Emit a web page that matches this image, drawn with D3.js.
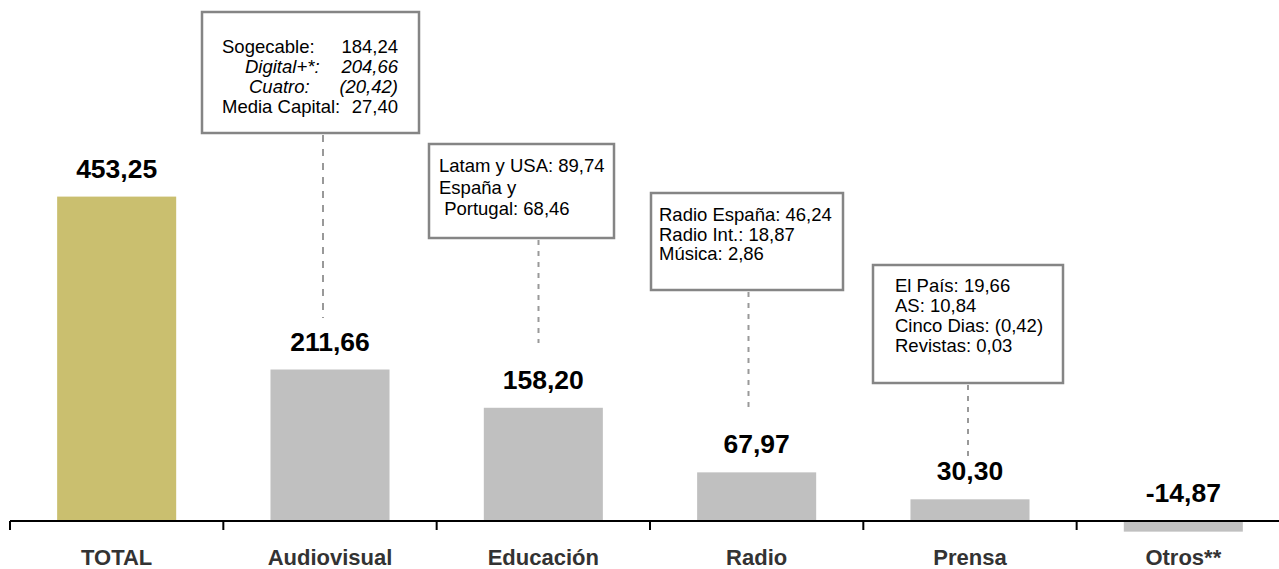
<!DOCTYPE html>
<html>
<head>
<meta charset="utf-8">
<script src="https://cdn.jsdelivr.net/npm/d3@7"></script>
<style>
  html, body { margin: 0; padding: 0; background: #fff; }
  svg { display: block; font-family: "Liberation Sans", Arial, Helvetica, sans-serif; }
  .pre { white-space: pre; }
</style>
</head>
<body>
<svg id="chart" width="1279" height="569"></svg>
<script>
// Resultado por negocio (millones de euros)
const categories = ["TOTAL", "Audiovisual", "Educación", "Radio", "Prensa", "Otros**"];
const values = [453.25, 211.66, 158.20, 67.97, 30.30, -14.87];

// Desglose de cada negocio
const audiovisualLabels = ["Sogecable:", "Digital+*:", "Cuatro:", "Media Capital:"];
const audiovisualValues = ["184,24", "204,66", "(20,42)", "27,40"];
const audiovisualItalic = [false, true, true, false];
const educacionLines = ["Latam y USA: 89,74", "España y", " Portugal: 68,46"];
const radioLines = ["Radio España: 46,24", "Radio Int.: 18,87", "Música: 2,86"];
const prensaLines = ["El País: 19,66", "AS: 10,84", "Cinco Dias: (0,42)", "Revistas: 0,03"];

const fmt = d3.formatLocale({ decimal: ",", thousands: ".", grouping: [3], currency: ["", " €"], minus: "-" }).format(".2f");

const svg = d3.select("#chart");
const W = 1279, H = 569;

const x = d3.scaleBand().domain(categories).range([10, 10 + 213.33 * 6]).paddingInner(0.442).paddingOuter(0.221);
const y = d3.scaleLinear().domain([0, 453.25]).range([521, 196.6]);

// Barras
svg.append("g").selectAll("rect")
  .data(values)
  .join("rect")
  .attr("x", (d, i) => x(categories[i]))
  .attr("width", x.bandwidth())
  .attr("y", d => Math.min(y(d), y(0)))
  .attr("height", d => Math.abs(y(d) - y(0)))
  .attr("fill", (d, i) => i === 0 ? "#CABF6F" : "#C0C0C0");

// Eje horizontal con marcas entre categorías
const step = x.step();
const start = x.range()[0];
const axisG = svg.append("g");
axisG.append("line")
  .attr("x1", start).attr("x2", W)
  .attr("y1", y(0)).attr("y2", y(0))
  .attr("stroke", "#000").attr("stroke-width", 2);
axisG.selectAll("line.tick")
  .data(d3.range(categories.length))
  .join("line")
  .attr("class", "tick")
  .attr("x1", i => start + i * step).attr("x2", i => start + i * step)
  .attr("y1", y(0)).attr("y2", y(0) + 9)
  .attr("stroke", "#000").attr("stroke-width", 2);

// Etiquetas de categoría
svg.append("g").selectAll("text")
  .data(categories)
  .join("text")
  .attr("x", d => x(d) + x.bandwidth() / 2)
  .attr("y", 565)
  .attr("text-anchor", "middle")
  .attr("font-size", 22)
  .attr("font-weight", "bold")
  .attr("fill", "#333")
  .text(d => d);

// Valores sobre las barras
const labelBase = d => y(Math.max(d, 0)) - 19;
svg.append("g").selectAll("text")
  .data(values)
  .join("text")
  .attr("x", (d, i) => x(categories[i]) + x.bandwidth() / 2)
  .attr("y", d => labelBase(d))
  .attr("text-anchor", "middle")
  .attr("font-size", 26.5)
  .attr("font-weight", "bold")
  .attr("fill", "#000")
  .text(d => fmt(d));

// Cuadros de desglose con línea discontinua
const boxes = [
  { cat: "Audiovisual", x: 202, y: 12, w: 217, h: 121, lineX: 323, lineEnd: 318, dash: "7,7", tx: 20, first: 41, lh: 20 },
  { cat: "Educación",   x: 429, y: 144, w: 185, h: 94, lineX: 538.5, lineEnd: 343, dash: "5,6", tx: 10, first: 28, lh: 21.5, lines: educacionLines },
  { cat: "Radio",       x: 651, y: 193, w: 192, h: 97, lineX: 748.5, lineEnd: 411, dash: "5,6", tx: 8, first: 28, lh: 19.5, lines: radioLines },
  { cat: "Prensa",      x: 873, y: 265, w: 190, h: 118, lineX: 968, lineEnd: 457, dash: "5,6", tx: 22, first: 27, lh: 20, lines: prensaLines }
];

const boxG = svg.append("g");
boxes.forEach(b => {
  boxG.append("line")
    .attr("x1", b.lineX).attr("x2", b.lineX)
    .attr("y1", b.y + b.h + 2).attr("y2", b.lineEnd)
    .attr("stroke", "#999").attr("stroke-width", 2)
    .attr("stroke-dasharray", b.dash);
  boxG.append("rect")
    .attr("x", b.x).attr("y", b.y).attr("width", b.w).attr("height", b.h)
    .attr("fill", "#fff").attr("stroke", "#858585").attr("stroke-width", 2.5);
  const g = boxG.append("g").attr("font-size", 18.5).attr("fill", "#000");
  if (b.lines) {
    g.selectAll("text").data(b.lines).join("text")
      .attr("class", "pre")
      .attr("x", b.x + b.tx)
      .attr("y", (d, i) => b.y + b.first + i * b.lh)
      .text(d => d);
  } else {
    const indents = [0, 23, 27, 0];
    g.selectAll("text.lab").data(audiovisualLabels).join("text")
      .attr("class", "lab")
      .attr("x", (d, i) => b.x + b.tx + indents[i])
      .attr("y", (d, i) => b.y + b.first + i * b.lh)
      .attr("font-style", (d, i) => audiovisualItalic[i] ? "italic" : "normal")
      .text(d => d);
    g.selectAll("text.val").data(audiovisualValues).join("text")
      .attr("class", "val")
      .attr("x", b.x + b.w - 21)
      .attr("y", (d, i) => b.y + b.first + i * b.lh)
      .attr("text-anchor", "end")
      .attr("font-style", (d, i) => audiovisualItalic[i] ? "italic" : "normal")
      .text(d => d);
  }
});
</script>
</body>
</html>
